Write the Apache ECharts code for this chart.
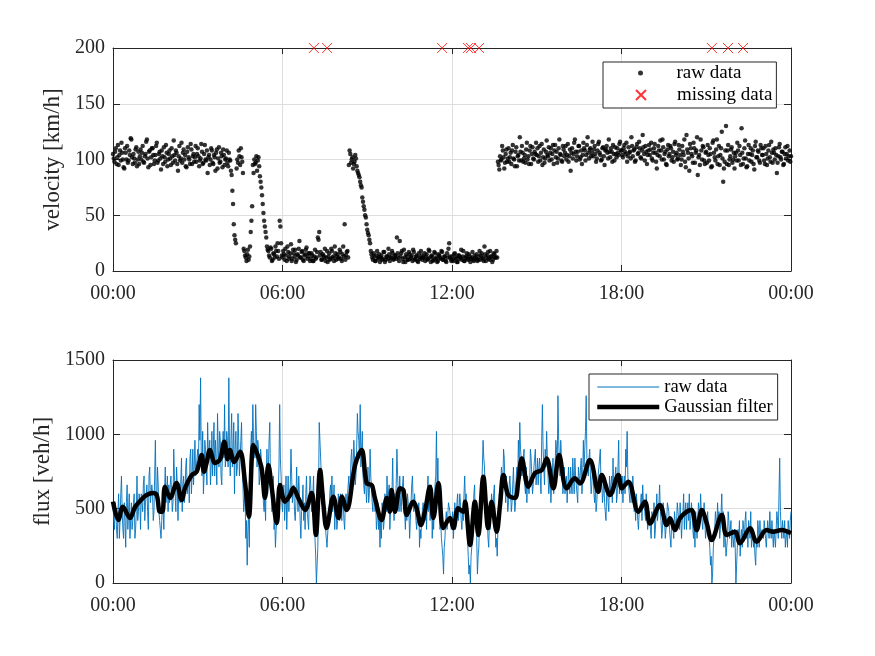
<!DOCTYPE html>
<html><head><meta charset="utf-8">
<script src="https://cdn.jsdelivr.net/npm/echarts@6/dist/echarts.min.js"></script>
<style>html,body{margin:0;padding:0;background:#fff}#c{width:875px;height:656px}</style>
</head><body><div id="c"></div>
<script>
// velocity [km/h], one value every 1.5 minutes from 00:00 to 24:00
const velocity = [
105,101,98,107,110,96,102,113,95,104,108,99,115,106,100,93,92,110,106,100,112,97,99,108,104,119,118,102,96,105,101,97,109,111,94,100,107,96,103,109,
100,106,112,98,97,103,105,116,118,101,93,107,108,95,102,110,110,104,96,99,104,112,115,97,99,105,107,101,91,108,103,96,111,102,98,113,106,94,100,105,
108,101,95,110,103,97,117,104,99,108,106,96,90,103,112,99,101,115,97,106,109,100,104,94,93,107,111,102,100,96,114,109,96,103,105,98,102,112,98,105,
110,103,94,99,101,114,107,96,97,105,113,100,99,108,88,102,104,95,100,110,108,97,96,104,102,90,106,109,92,101,111,97,98,106,103,93,109,104,95,100,
101,108,97,94,106,100,99,90,86,72,60,42,32,28,25,92,100,97,108,103,95,110,102,98,88,20,18,14,12,9,15,19,10,13,22,35,45,58,95,88,
100,96,97,103,90,99,102,94,85,80,75,68,60,52,45,40,35,30,22,19,18,14,12,21,20,9,10,16,15,12,22,18,13,25,18,11,45,40,25,14,
12,18,15,10,20,14,9,22,17,11,13,16,24,9,11,19,16,13,19,8,10,15,14,20,27,12,12,17,18,10,9,14,15,19,21,11,13,16,16,9,
11,16,14,9,9,13,19,11,12,17,30,28,35,14,17,10,10,15,14,12,20,9,12,18,8,13,16,10,11,20,18,12,13,9,22,16,10,13,15,11,
12,19,17,11,9,15,22,13,42,10,14,17,18,12,95,108,105,97,100,102,92,96,98,104,101,94,90,88,86,84,80,77,75,66,62,58,55,50,48,42,
37,34,32,28,25,18,15,12,10,16,13,9,9,14,18,11,12,15,8,12,14,10,11,17,17,8,10,13,13,11,20,15,9,12,12,18,16,10,11,14,
14,11,30,16,12,9,27,13,16,18,11,8,19,12,8,15,13,10,10,17,15,11,12,14,9,19,17,10,11,13,14,9,8,16,12,11,18,14,10,12,
12,16,9,13,15,10,11,19,18,12,8,14,13,9,10,17,16,11,12,8,9,15,14,12,11,18,17,10,10,13,13,9,8,16,12,20,25,13,11,9,
13,10,9,15,16,12,11,8,8,14,14,11,12,19,10,13,18,9,9,12,13,16,11,10,15,13,8,11,12,17,10,9,14,12,11,15,9,10,13,18,
10,14,16,11,12,9,22,15,9,12,14,17,11,10,18,13,13,8,10,16,15,12,12,18,12,98,95,91,103,99,100,112,108,102,92,97,105,109,98,101,
110,98,102,106,96,108,113,101,100,94,107,111,94,103,104,99,120,107,99,112,106,98,101,104,97,109,115,100,103,96,108,112,96,105,111,101,100,107,105,115,
104,110,98,103,112,99,106,114,95,102,109,97,101,107,117,104,103,111,99,106,110,100,105,113,96,108,113,102,107,97,101,110,118,105,104,99,98,112,109,103,
106,112,100,104,114,98,103,109,90,106,110,101,105,115,118,107,99,103,107,112,112,100,102,108,96,104,115,110,108,99,104,113,120,106,101,109,110,103,106,116,
103,109,112,105,98,101,108,114,116,106,104,99,100,110,111,103,95,108,109,112,106,101,118,107,102,110,107,98,113,105,99,111,105,102,110,106,104,114,116,108,
108,104,102,110,113,107,105,115,98,103,111,106,107,101,120,112,103,108,109,98,99,111,114,105,106,116,110,102,101,108,122,111,105,99,112,107,96,104,108,113,
104,109,115,101,99,106,110,114,106,98,92,104,112,108,103,117,108,100,118,111,100,105,107,96,95,109,113,103,105,112,110,99,102,107,98,114,116,104,106,100,
101,113,109,104,95,100,112,107,104,118,98,93,122,109,106,101,90,114,110,105,103,97,115,110,97,106,108,120,86,102,104,95,118,108,100,112,111,99,96,106,
107,97,113,104,99,110,105,93,94,115,117,106,102,99,109,118,96,103,112,95,104,110,125,101,80,92,98,108,130,96,108,113,95,100,103,109,111,97,100,106,
92,103,106,99,115,108,99,112,104,95,128,106,96,101,110,117,101,93,94,105,113,99,105,110,98,104,108,96,91,112,116,102,102,108,107,99,97,113,110,104,
104,110,99,96,112,105,95,101,108,113,102,98,116,106,97,109,106,100,110,104,88,97,103,111,114,102,100,107,107,95,96,105,111,101,105,112,99,103,108,98,
103
];

// times (hours) with missing velocity data, drawn at the top of the axis
const missingT = [7.11, 7.58, 11.65, 12.57, 12.67, 12.96, 21.2, 21.77, 22.3];
const missingV = [200, 200, 200, 200, 200, 200, 200, 200, 200];

// flux [veh/h], one value every 1.5 minutes from 00:00 to 24:00
const flux = [
540,420,360,540,480,360,300,480,600,300,420,600,720,480,360,300,540,420,240,540,660,360,480,600,300,420,540,360,420,540,600,300,360,480,720,420,480,600,540,360,
600,540,480,660,720,420,540,600,660,480,360,720,780,540,540,660,600,420,480,720,960,600,540,780,660,480,420,360,300,420,540,480,360,600,780,540,600,720,480,660,
540,660,720,600,480,540,900,720,600,480,780,660,420,600,660,540,540,840,480,660,720,540,600,780,840,600,660,720,540,840,900,600,720,900,660,780,960,720,780,840,
900,780,1200,960,1380,840,720,1020,600,720,960,900,780,660,1080,840,840,960,660,780,1020,720,900,1080,720,960,840,660,1140,900,780,1020,960,720,660,900,1020,840,1200,780,
840,1020,960,780,1380,900,720,960,1140,780,900,1080,600,900,1020,720,780,1140,960,720,840,960,1080,780,660,480,540,600,300,420,120,360,480,240,720,900,1020,840,1200,960,
960,840,1200,1020,780,960,900,660,720,900,840,720,660,540,480,600,420,720,900,600,780,960,1080,660,600,480,540,720,360,420,240,360,420,540,600,780,1200,840,720,540,
480,600,660,420,540,720,360,540,720,480,600,660,900,720,540,600,660,480,420,540,780,600,480,720,600,420,300,480,540,660,420,540,360,600,720,480,480,360,600,720,
660,480,540,600,720,420,300,180,0,120,240,600,1080,960,840,720,600,540,480,600,420,360,300,240,240,420,480,600,660,540,720,480,540,660,360,540,480,360,420,600,
540,420,600,480,420,600,540,420,360,540,600,480,480,660,720,540,660,840,900,720,780,960,840,660,720,900,1140,1020,960,840,1200,780,900,1020,720,660,600,780,780,540,
660,780,540,600,900,720,720,540,480,660,600,480,540,360,420,540,360,480,240,420,300,540,480,360,420,600,600,480,720,540,540,660,360,480,480,600,840,540,420,600,
540,660,900,720,600,480,720,540,480,600,660,720,540,480,360,540,420,600,600,480,300,420,540,660,720,540,480,600,600,420,360,480,420,540,240,360,300,420,480,540,
540,480,420,540,360,600,720,480,600,420,540,660,300,480,360,540,660,720,1020,600,840,540,480,360,420,300,240,180,60,240,300,420,480,360,360,540,540,480,420,360,
360,480,300,420,540,360,420,540,600,420,480,600,540,420,360,480,420,600,720,540,600,420,300,180,60,120,0,180,240,360,480,600,660,420,540,300,60,180,240,420,
420,540,600,780,960,840,780,600,540,360,420,300,240,420,360,480,600,540,480,600,660,420,240,300,180,360,420,600,540,660,780,720,660,900,840,660,540,720,600,480,
540,660,720,600,480,540,660,780,600,480,540,720,780,660,960,840,1080,900,840,720,720,840,900,660,600,780,540,720,720,600,660,900,840,720,600,660,780,840,900,660,
720,840,660,780,840,720,600,960,1200,900,780,660,900,780,1020,840,720,600,660,780,540,660,720,840,600,720,780,960,900,780,1260,960,840,720,960,840,720,600,660,780,
600,660,720,540,540,780,660,600,780,660,600,840,720,600,840,720,660,600,540,780,720,660,780,840,600,720,960,780,900,1020,1260,840,780,720,840,900,720,600,660,780,
720,600,540,660,480,540,660,720,780,840,900,660,720,540,600,720,540,480,420,600,660,540,480,720,600,660,720,540,840,600,660,720,780,540,600,780,960,600,720,660,
600,720,540,660,720,600,900,780,1020,720,660,600,540,660,600,540,720,600,480,540,420,600,540,420,360,480,480,540,600,420,660,540,540,480,420,600,480,360,360,480,
420,360,300,480,480,420,540,300,360,480,600,420,480,540,660,480,420,300,360,540,480,420,300,360,420,540,540,480,360,300,240,420,420,360,300,480,480,360,420,540,
480,420,360,540,540,300,420,480,600,360,480,540,360,480,540,420,600,360,420,540,480,360,300,420,240,480,360,300,420,540,540,420,600,480,480,360,360,540,420,300,
360,420,480,360,300,240,120,180,0,60,240,300,360,480,420,360,540,420,480,300,360,480,600,360,480,240,360,300,180,240,300,480,420,300,360,420,240,360,300,240,
360,240,0,120,240,360,300,420,180,300,360,240,420,360,300,420,480,300,360,240,420,360,300,480,240,300,360,240,300,180,120,300,240,420,360,240,420,300,300,360,
360,300,420,360,300,240,240,420,360,300,480,360,300,420,420,240,360,300,240,360,480,420,300,600,840,480,360,300,420,360,300,420,240,300,360,240,420,360,300,420,
480
];

// Gaussian-filtered flux: turning points (hour, veh/h)
const gaussT = [0,0.19,0.35,0.6,0.78,1.0,1.19,1.42,1.55,1.66,1.75,1.84,2.02,2.25,2.43,2.55,2.79,2.96,3.14,3.22,3.32,3.43,3.61,3.79,3.94,4.06,4.14,4.29,4.5,4.67,4.81,4.97,5.12,5.26,5.38,5.5,5.62,5.8,5.91,6.09,6.27,6.38,6.56,6.8,7.03,7.18,7.33,7.45,7.56,7.8,7.98,8.1,8.27,8.57,8.8,8.98,9.16,9.27,9.51,9.69,9.8,9.86,9.98,10.16,10.28,10.4,10.63,10.75,10.9,11.04,11.22,11.34,11.52,11.69,11.93,12.05,12.22,12.4,12.46,12.64,12.81,12.93,13.11,13.28,13.4,13.58,13.7,13.82,13.99,14.23,14.35,14.47,14.7,14.94,15.18,15.35,15.59,15.79,16.06,16.35,16.53,16.88,17.18,17.3,17.59,17.89,18.01,18.24,18.6,18.83,19.01,19.36,19.6,19.72,19.89,20.07,20.31,20.48,20.66,20.84,21.02,21.19,21.55,21.72,22.02,22.19,22.55,22.78,23.14,23.37,23.67,24.0];
const gaussV = [547,424,513,437,511,560,592,605,590,480,480,648,572,672,558,639,726,749,861,748,814,895,807,831,950,832,895,814,883,681,446,928,861,773,572,794,639,403,659,547,592,639,572,491,605,323,760,525,370,580,437,580,491,794,895,672,659,572,424,572,480,625,480,637,625,457,547,502,390,480,648,437,672,370,437,370,502,480,547,256,547,323,715,370,547,345,525,726,592,572,692,838,648,740,760,838,637,861,637,704,670,827,614,726,592,726,637,681,480,547,401,525,390,435,356,435,480,491,356,491,401,289,457,323,345,267,368,278,356,345,356,334];

const xTickLabels = ['00:00', '06:00', '12:00', '18:00', '00:00'];

// the raw series are evenly sampled over the 24 h day
const velStepHours = 24 / (velocity.length - 1);
const fluxStepHours = 24 / (flux.length - 1);

const FONT = 'Liberation Serif';
const AX = '#262626';
const GRIDC = '#dedede';

function xAxis(grid, pos, main) {
  return {
    type: 'value', gridIndex: grid, position: pos, min: 0, max: 24, interval: 6,
    axisLine: { show: true, onZero: false, lineStyle: { color: AX, width: 1 } },
    axisTick: { show: true, inside: true, length: 6, lineStyle: { color: AX, width: 1 } },
    axisLabel: { show: main, margin: 13, color: AX, fontFamily: FONT, fontSize: 20,
      formatter: v => xTickLabels[Math.round(v / 6)] },
    splitLine: { show: main, lineStyle: { color: GRIDC, width: 1 } }
  };
}
function yAxis(grid, pos, main, max, interval, name) {
  return {
    type: 'value', gridIndex: grid, position: pos, min: 0, max: max, interval: interval,
    name: main ? name : '', nameLocation: 'middle', nameGap: 48,
    nameTextStyle: { fontFamily: FONT, fontSize: 23, color: AX },
    axisLine: { show: true, onZero: false, lineStyle: { color: AX, width: 1 } },
    axisTick: { show: true, inside: true, length: 7, lineStyle: { color: AX, width: 1 } },
    axisLabel: { show: main, margin: 8, color: AX, fontFamily: FONT, fontSize: 20,
      formatter: v => String(v) },
    splitLine: { show: main, lineStyle: { color: GRIDC, width: 1 } }
  };
}

const chart = echarts.init(document.getElementById('c'), null, { renderer: 'canvas' });
chart.setOption({
  animation: false,
  backgroundColor: '#fff',
  textStyle: { fontFamily: FONT },
  grid: [
    { left: 113, top: 48, width: 678, height: 223, containLabel: false, outerBoundsMode: 'none' },
    { left: 113, top: 360, width: 678, height: 223, containLabel: false, outerBoundsMode: 'none' }
  ],
  xAxis: [xAxis(0, 'bottom', true), xAxis(0, 'top', false), xAxis(1, 'bottom', true), xAxis(1, 'top', false)],
  yAxis: [
    yAxis(0, 'left', true, 200, 50, 'velocity [km/h]'), yAxis(0, 'right', false, 200, 50, ''),
    yAxis(1, 'left', true, 1500, 500, 'flux [veh/h]'), yAxis(1, 'right', false, 1500, 500, '')
  ],
  legend: [
    { left: 603, top: 62, orient: 'vertical', data: ['raw data'], itemWidth: 62, itemHeight: 5,
      padding: [1, 35, 25, 35], borderColor: AX, borderWidth: 1, backgroundColor: '#fff',
      selectedMode: false, z: 4,
      textStyle: { fontFamily: FONT, fontSize: 19, color: '#000', lineHeight: 20 } },
    { left: 635, top: 85, orient: 'vertical', data: ['missing data'], itemWidth: 62, itemHeight: 10,
      padding: 0, borderWidth: 0, selectedMode: false, z: 6,
      textStyle: { fontFamily: FONT, fontSize: 19, color: '#000', lineHeight: 20 } },
    { left: 589, top: 374, orient: 'vertical',
      data: [
        { name: 'flux raw data', lineStyle: { width: 1 } },
        { name: 'Gaussian filter', lineStyle: { width: 4.5 } }
      ],
      itemWidth: 62, itemHeight: 14, itemGap: 0, padding: [3, 5, 3, 6],
      itemStyle: { color: 'rgba(0,0,0,0)', borderWidth: 0 },
      borderColor: AX, borderWidth: 1, backgroundColor: '#fff', selectedMode: false,
      formatter: n => n === 'flux raw data' ? 'raw data' : n,
      textStyle: { fontFamily: FONT, fontSize: 18.5, color: '#000', lineHeight: 20 } }
  ],
  series: [
    { type: 'scatter', name: 'raw data', xAxisIndex: 0, yAxisIndex: 0, symbol: 'circle', symbolSize: 4.5,
      itemStyle: { color: '#000' }, silent: true,
      data: velocity.map((v, i) => [i * velStepHours, v]) },
    { type: 'scatter', name: 'missing data', xAxisIndex: 0, yAxisIndex: 0, clip: false, z: 5,
      symbol: 'path://M0,0L10,10M10,0L0,10', symbolSize: 10,
      itemStyle: { color: 'rgba(0,0,0,0)', borderColor: '#ff0000', borderWidth: 1 }, silent: true,
      data: missingT.map((t, i) => [t, missingV[i]]) },
    { type: 'line', name: 'flux raw data', xAxisIndex: 2, yAxisIndex: 2, symbol: 'none',
      lineStyle: { color: '#0072BD', width: 0.9 }, itemStyle: { color: '#0072BD' }, silent: true,
      data: flux.map((v, i) => [i * fluxStepHours, v]) },
    { type: 'line', name: 'Gaussian filter', xAxisIndex: 2, yAxisIndex: 2, symbol: 'none', smooth: 0.35,
      lineStyle: { color: '#000', width: 4.5 }, itemStyle: { color: '#000' }, silent: true,
      data: gaussT.map((t, i) => [t, gaussV[i]]) }
  ]
});
</script>
</body></html>
